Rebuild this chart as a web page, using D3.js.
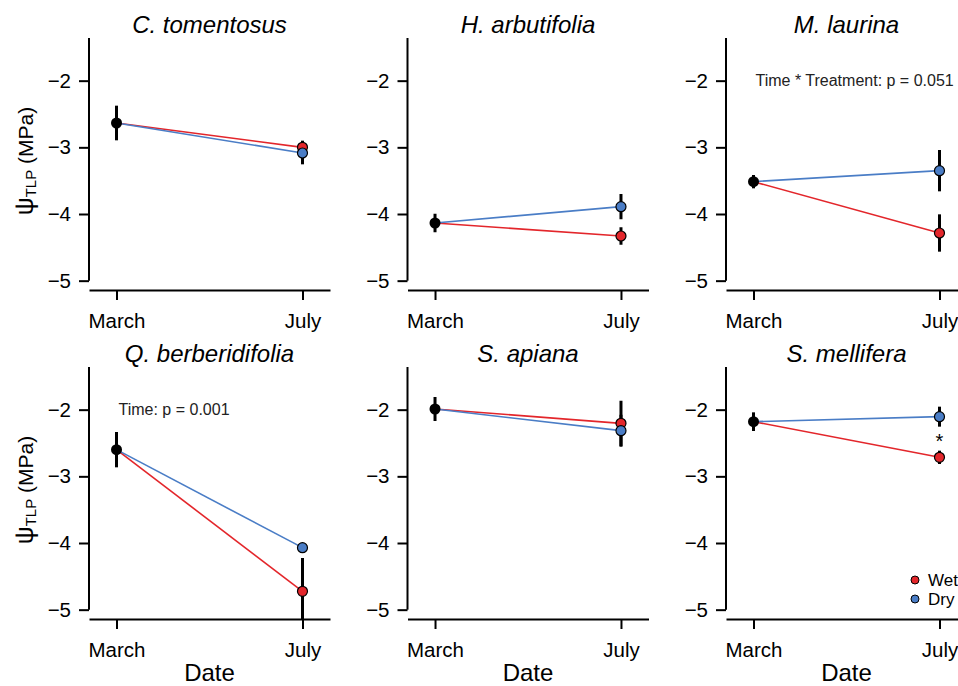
<!DOCTYPE html>
<html>
<head>
<meta charset="utf-8">
<script src="https://cdn.jsdelivr.net/npm/d3@7"></script>
<style>
  body { margin: 0; background: #fff; }
  svg { display: block; font-family: "Liberation Sans", Arial, sans-serif; }
</style>
</head>
<body>
<div id="chart"></div>
<script>
// turgor loss point, March baseline vs July by treatment
const species = ["C. tomentosus", "H. arbutifolia", "M. laurina",
                 "Q. berberidifolia", "S. apiana", "S. mellifera"];
const dates = ["March", "July"];
const marchMean = [-2.635, -4.135, -3.515, -2.60, -1.99, -2.18];
const marchSE   = [0.26, 0.14, 0.10, 0.265, 0.18, 0.14];
const wetJuly   = [-3.00, -4.33, -4.285, -4.725, -2.205, -2.715];
const wetSE     = [0.10, 0.13, 0.28, 0.50, 0.34, 0.10];
const dryJuly   = [-3.085, -3.89, -3.35, -4.07, -2.315, -2.105];
const drySE     = [0.17, 0.19, 0.31, 0.06, 0.24, 0.15];
const yTicks = [-5, -4, -3, -2];
const notes = [null, null, "Time * Treatment: p = 0.051", "Time: p = 0.001", null, null];
const stars = [null, null, null, null, null, { x: 2, y: -2.58, text: "*" }];
const treatments = ["Wet", "Dry"];
const colors = { Wet: "#e3262b", Dry: "#4a7dc6" };

const width = 958, height = 686;
const plotW = 241, plotH = 252;
const colLeft = [89, 407.5, 726];
const rowTop = [38, 367];
const fontFam = "Liberation Sans, Arial, sans-serif";

const svg = d3.select("#chart").append("svg")
  .attr("width", width).attr("height", height);

species.forEach((name, i) => {
  const row = Math.floor(i / 3), col = i % 3;
  const left = colLeft[col], top = rowTop[row];

  const x = d3.scaleLinear().domain([0.852, 2.148]).range([left, left + plotW]);
  const y = d3.scaleLinear().domain([-5.14, -1.36]).range([top + plotH, top]);

  const g = svg.append("g");

  g.append("clipPath").attr("id", "clip" + i)
    .append("rect")
    .attr("x", left).attr("y", top).attr("width", plotW).attr("height", plotH);

  // y axis
  const yAxis = g.append("g")
    .attr("transform", `translate(${left},0)`)
    .call(d3.axisLeft(y).tickValues(yTicks).tickSize(10).tickPadding(8)
      .tickFormat(d => "\u2212" + Math.abs(d)));
  yAxis.select(".domain").remove();
  yAxis.append("line")
    .attr("x1", 0).attr("x2", 0)
    .attr("y1", y(-5)).attr("y2", top)
    .attr("stroke", "#000");
  yAxis.selectAll("line").attr("stroke-width", 2);
  yAxis.selectAll("text").attr("font-size", 20.5).attr("fill", "#000")
    .attr("font-family", fontFam);

  // x axis
  const xAxis = g.append("g")
    .attr("transform", `translate(0,${top + plotH})`)
    .call(d3.axisBottom(x).tickValues([1, 2]).tickFormat((d, k) => dates[k])
      .tickSize(10).tickSizeOuter(0).tickPadding(13));
  xAxis.select(".domain").attr("stroke-width", 2);
  xAxis.selectAll("line").attr("stroke-width", 2);
  xAxis.selectAll("text").attr("font-size", 20.5).attr("fill", "#000")
    .attr("font-family", fontFam);

  // title
  g.append("text")
    .attr("x", left + plotW / 2).attr("y", top - 5)
    .attr("text-anchor", "middle")
    .attr("font-size", 24).attr("font-style", "italic")
    .text(name);

  // y label (left column)
  if (col === 0) {
    const lab = g.append("text")
      .attr("transform", `translate(33,${top + plotH / 2 - 3}) rotate(-90)`)
      .attr("text-anchor", "middle");
    lab.append("tspan").attr("font-size", 25).text("ψ");
    lab.append("tspan").attr("font-size", 15).attr("dy", 3).text("TLP");
    lab.append("tspan").attr("font-size", 21).attr("dy", -3).text(" (MPa)");
  }

  // x label (bottom row)
  if (row === 1) {
    g.append("text")
      .attr("x", left + plotW / 2).attr("y", top + plotH + 62)
      .attr("text-anchor", "middle").attr("font-size", 24)
      .text("Date");
  }

  const plot = g.append("g").attr("clip-path", `url(#clip${i})`);

  const july = [
    { t: "Wet", mean: wetJuly[i], se: wetSE[i] },
    { t: "Dry", mean: dryJuly[i], se: drySE[i] }
  ];

  // treatment lines
  plot.selectAll("line.trt").data(july).join("line")
    .attr("x1", x(1)).attr("y1", y(marchMean[i]))
    .attr("x2", x(2)).attr("y2", d => y(d.mean))
    .attr("stroke", d => colors[d.t]).attr("stroke-width", 1.6);

  // error bars
  const bars = [{ x: 1, mean: marchMean[i], se: marchSE[i] }]
    .concat(july.map(d => ({ x: 2, mean: d.mean, se: d.se })));
  plot.selectAll("line.err").data(bars).join("line")
    .attr("x1", d => x(d.x)).attr("x2", d => x(d.x))
    .attr("y1", d => y(d.mean - d.se)).attr("y2", d => y(d.mean + d.se))
    .attr("stroke", "#000").attr("stroke-width", 3);

  // points
  plot.append("circle")
    .attr("cx", x(1)).attr("cy", y(marchMean[i])).attr("r", 5.5)
    .attr("fill", "#000");
  plot.selectAll("circle.jul").data(july).join("circle")
    .attr("cx", x(2)).attr("cy", d => y(d.mean)).attr("r", 5)
    .attr("fill", d => colors[d.t]).attr("stroke", "#000").attr("stroke-width", 1.2);

  if (notes[i]) {
    g.append("text")
      .attr("x", x(1) + 2).attr("y", y(-2)).attr("dy", "0.35em")
      .attr("font-size", 16).attr("fill", "#222")
      .text(notes[i]);
  }
  if (stars[i]) {
    g.append("text")
      .attr("x", x(stars[i].x)).attr("y", y(stars[i].y))
      .attr("text-anchor", "middle").attr("font-size", 20)
      .text(stars[i].text);
  }

  // legend in last panel
  if (i === species.length - 1) {
    const leg = g.append("g").attr("transform", `translate(${left + 189},${top + 213})`);
    treatments.forEach((t, k) => {
      leg.append("circle").attr("cx", 0).attr("cy", k * 19).attr("r", 4)
        .attr("fill", colors[t]).attr("stroke", "#000").attr("stroke-width", 1);
      leg.append("text").attr("x", 13).attr("y", k * 19).attr("dy", "0.35em")
        .attr("font-size", 17).text(t);
    });
  }
});
</script>
</body>
</html>
